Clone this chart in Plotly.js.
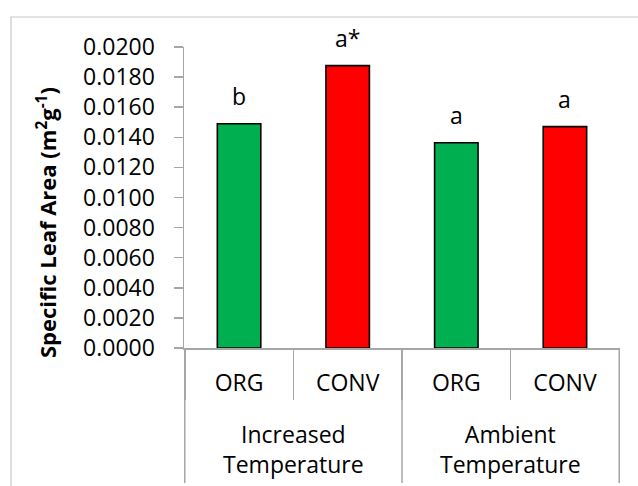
<!DOCTYPE html>
<html>
<head>
<meta charset="utf-8">
<script src="https://cdn.plot.ly/plotly-3.0.1.min.js"></script>
<style>html,body{margin:0;padding:0;background:#fff;}#chart{width:638px;height:486px;}</style>
</head>
<body>
<div id="chart"></div>
<script>
const groups = ["Increased<br>Temperature", "Increased<br>Temperature", "Ambient<br>Temperature", "Ambient<br>Temperature"];
const systems = ["ORG", "CONV", "ORG", "CONV"];
const sla = [0.0149, 0.01876, 0.01364, 0.01471];
const letters = ["b", "a*", "a", "a"];
const barColors = ["#00B050", "#FF0000", "#00B050", "#FF0000"];
const yTitle = "Specific Leaf Area (m<sup>2</sup>g<sup>-1</sup>)";

const FONT = "Open Sans, Liberation Sans, sans-serif";
const AXIS = "#a6a6a6";

// unique category ids built from the two label levels
const ids = groups.map((g, i) => g.replace("<br>", " ") + " | " + systems[i]);

// group boundaries and group centres (in category index units)
const dividerPos = [-0.5];
const groupInfo = [];
groups.forEach((g, i) => {
  if (i > 0 && g !== groups[i - 1]) dividerPos.push(i - 0.5);
  const last = groupInfo[groupInfo.length - 1];
  if (!last || last.name !== g) groupInfo.push({name: g, first: i, last: i});
  else last.last = i;
});
dividerPos.push(groups.length - 0.5);

const bars = {
  type: "bar",
  x: ids,
  y: sla,
  marker: {color: barColors, line: {color: "#000000", width: 1.6}},
  hoverinfo: "skip",
  showlegend: false
};

const annotations = [{
  text: "<b>" + yTitle + "</b>",
  xref: "paper", yref: "paper",
  x: -0.3165, y: 0.415,
  xanchor: "center", yanchor: "middle",
  textangle: -90,
  showarrow: false,
  font: {family: FONT, size: 22, color: "#000000"}
}];
// significance letters above each bar
letters.forEach((t, i) => {
  annotations.push({
    text: t,
    xref: "x", yref: "y",
    x: ids[i], y: sla[i],
    xanchor: "center", yanchor: "bottom",
    yshift: 10,
    showarrow: false,
    font: {family: FONT, size: 23, color: "#000000"}
  });
});
groupInfo.forEach(gi => {
  annotations.push({
    text: gi.name,
    xref: "x", yref: "paper",
    x: (gi.first + gi.last) / 2, y: -0.3355,
    xanchor: "center", yanchor: "middle",
    showarrow: false,
    font: {family: FONT, size: 23, color: "#000000"}
  });
});

const shapes = [{
  type: "rect",
  xref: "paper", yref: "paper",
  x0: -0.3968, x1: 1.3, y0: -1, y1: 1.0997,
  line: {color: "#c8c8c8", width: 1.2},
  fillcolor: "rgba(0,0,0,0)",
  layer: "below"
}];
dividerPos.forEach(p => {
  shapes.push({
    type: "line",
    xref: "x", yref: "paper",
    x0: p, x1: p, y0: 0, y1: -0.4485,
    line: {color: AXIS, width: 1.5}
  });
});

const layout = {
  width: 638,
  height: 486,
  margin: {l: 184, r: 18, t: 47, b: 138},
  paper_bgcolor: "#ffffff",
  plot_bgcolor: "#ffffff",
  font: {family: FONT, size: 23, color: "#000000"},
  bargap: 0.6,
  xaxis: {
    type: "category",
    tickvals: ids,
    ticktext: systems,
    showline: true,
    linecolor: AXIS,
    linewidth: 1.5,
    ticks: "outside",
    tickson: "boundaries",
    ticklen: 50,
    tickcolor: AXIS,
    tickwidth: 1.5,
    showgrid: false,
    ticklabelstandoff: 14,
    tickfont: {family: FONT, size: 23, color: "#000000"}
  },
  yaxis: {
    range: [0, 0.02],
    dtick: 0.002,
    tick0: 0,
    tickformat: ".4f",
    showline: true,
    linecolor: AXIS,
    linewidth: 1.5,
    ticks: "outside",
    ticklen: 9,
    tickcolor: AXIS,
    tickwidth: 1.5,
    showgrid: false,
    zeroline: false,
    ticklabelstandoff: 14,
    tickfont: {family: FONT, size: 23, color: "#000000"}
  },
  annotations: annotations,
  shapes: shapes
};

Plotly.newPlot("chart", [bars], layout, {displayModeBar: false, staticPlot: true});
</script>
</body>
</html>
